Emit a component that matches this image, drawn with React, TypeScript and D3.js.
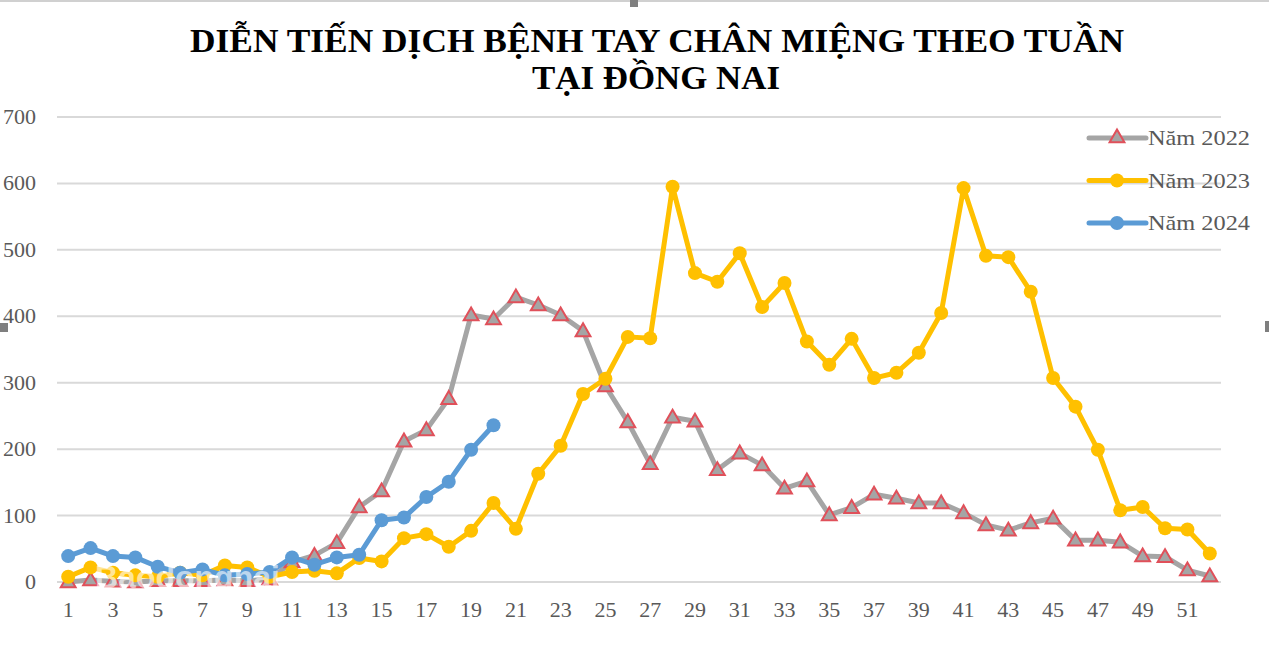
import React from "react";
import * as d3 from "d3";

const weeks: number[] = Array.from({ length: 52 }, (_, i) => i + 1);

const series2022: number[] = [
  0, 3, 1, 0, 2, 2, 2, 3, 2, 4, 30, 40, 59, 113, 137, 212, 229, 276, 402, 396,
  429, 417, 402, 378, 295, 241, 178, 248, 242, 169, 194, 176, 141, 152, 101, 112,
  132, 126, 119, 119, 104, 86, 78, 89, 96, 63, 63, 60, 39, 38, 18, 9,
];

const series2023: number[] = [
  8, 22, 14, 10, 8, 14, 10, 25, 22, 8, 15, 17, 13, 36, 31, 66, 72, 53, 77, 119,
  80, 163, 205, 283, 306, 369, 367, 595, 465, 452, 495, 414, 450, 362, 327, 366,
  307, 315, 345, 405, 593, 491, 489, 437, 307, 264, 199, 108, 113, 81, 79, 43,
];

const series2024: number[] = [
  39, 51, 39, 37, 23, 14, 19, 10, 12, 15, 37, 26, 37, 41, 93, 97, 128, 151, 199, 236,
];

const yTicks: number[] = [0, 100, 200, 300, 400, 500, 600, 700];
const xTickLabels: number[] = weeks.filter((w) => w % 2 === 1);

const titleLine1 = "DIỄN TIẾN DỊCH BỆNH TAY CHÂN MIỆNG THEO TUẦN";
const titleLine2 = "TẠI ĐỒNG NAI";
const legendNames = ["Năm 2022", "Năm 2023", "Năm 2024"];

const W = 1269;
const H = 648;
const GRAY = "#A5A5A5";
const YELLOW = "#FFC000";
const BLUE = "#5B9BD5";
const RED = "#E0505A";
const TEXT = "#595959";

export default function App() {
  const x = d3
    .scaleBand<number>()
    .domain(weeks)
    .range([57, 1221]);
  const cx = (w: number) => (x(w) as number) + x.bandwidth() / 2;
  const y = d3.scaleLinear().domain([0, 700]).range([582, 117]);

  const line = d3
    .line<number>()
    .x((_, i) => cx(i + 1))
    .y((d) => y(d));

  const tri = d3.symbol().type(d3.symbolTriangle).size(95);
  const triPath = tri() as string;

  const fontSerif = "'Liberation Serif', 'Times New Roman', serif";

  return (
    <div style={{ position: "absolute", left: 0, top: 0, width: W, height: H }}>
      <svg width={W} height={H} style={{ display: "block", background: "#fff" }}>
        <rect x={0} y={0} width={W} height={H} fill="#fff" />
        <line x1={0} x2={W} y1={1} y2={1} stroke="#d0d0d0" strokeWidth={2} />

        {/* title */}
        <text
          x={657}
          y={52}
          textAnchor="middle"
          fontFamily={fontSerif}
          fontWeight="bold"
          fontSize={33}
          textLength={934}
          lengthAdjust="spacingAndGlyphs"
          fill="#000"
        >
          {titleLine1}
        </text>
        <text
          x={656}
          y={89}
          textAnchor="middle"
          fontFamily={fontSerif}
          fontWeight="bold"
          fontSize={33}
          textLength={248}
          lengthAdjust="spacingAndGlyphs"
          fill="#000"
        >
          {titleLine2}
        </text>

        {/* gridlines */}
        {yTicks.map((t) => (
          <line
            key={"g" + t}
            x1={57}
            x2={1221}
            y1={y(t)}
            y2={y(t)}
            stroke="#D9D9D9"
            strokeWidth={2}
          />
        ))}

        {/* y labels */}
        {yTicks.map((t) => (
          <text
            key={"yl" + t}
            x={36}
            y={y(t) + 7}
            textAnchor="end"
            fontFamily={fontSerif}
            fontSize={22}
            fill={TEXT}
          >
            {t}
          </text>
        ))}

        {/* x labels */}
        {xTickLabels.map((w) => (
          <text
            key={"xl" + w}
            x={cx(w)}
            y={617}
            textAnchor="middle"
            fontFamily={fontSerif}
            fontSize={22}
            fill={TEXT}
          >
            {w}
          </text>
        ))}

        {/* 2022 */}
        <path d={line(series2022) as string} fill="none" stroke={GRAY} strokeWidth={5} strokeLinejoin="round" />
        {series2022.map((v, i) => (
          <path
            key={"t" + i}
            d={triPath}
            transform={`translate(${cx(i + 1)},${y(v) + 1})`}
            fill={GRAY}
            stroke={RED}
            strokeWidth={2}
          />
        ))}

        {/* 2023 */}
        <path d={line(series2023) as string} fill="none" stroke={YELLOW} strokeWidth={5} strokeLinejoin="round" />
        {series2023.map((v, i) => (
          <circle key={"y" + i} cx={cx(i + 1)} cy={y(v)} r={7} fill={YELLOW} />
        ))}

        {/* 2024 */}
        <path d={line(series2024) as string} fill="none" stroke={BLUE} strokeWidth={5} strokeLinejoin="round" />
        {series2024.map((v, i) => (
          <circle key={"b" + i} cx={cx(i + 1)} cy={y(v)} r={7} fill={BLUE} />
        ))}

        {/* watermark */}
        <text
          x={95}
          y={588}
          fontFamily="'Liberation Sans', Arial, sans-serif"
          fontWeight="bold"
          fontSize={32}
          fill="#ffffff"
          fillOpacity={0.6}
        >
          Baodongnai
        </text>

        {/* legend */}
        {legendNames.map((name, i) => {
          const ly = 138 + i * 42.5;
          const col = i === 0 ? GRAY : i === 1 ? YELLOW : BLUE;
          return (
            <g key={"lg" + i}>
              <line x1={1089} x2={1146} y1={ly} y2={ly} stroke={col} strokeWidth={5} strokeLinecap="round" />
              {i === 0 ? (
                <path d={triPath} transform={`translate(1117,${ly})`} fill={GRAY} stroke={RED} strokeWidth={2} />
              ) : (
                <circle cx={1117} cy={ly} r={7} fill={col} />
              )}
              <text
                x={1148}
                y={ly + 7}
                fontFamily={fontSerif}
                fontSize={21}
                textLength={102}
                lengthAdjust="spacingAndGlyphs"
                fill={TEXT}
              >
                {name}
              </text>
            </g>
          );
        })}

        {/* selection handles */}
        <rect x={630} y={0} width={8} height={7} fill="#7f7f7f" />
        <rect x={0} y={323} width={8} height={9} fill="#7f7f7f" />
        <rect x={1265} y={321} width={4} height={11} fill="#7f7f7f" />
      </svg>
    </div>
  );
}
